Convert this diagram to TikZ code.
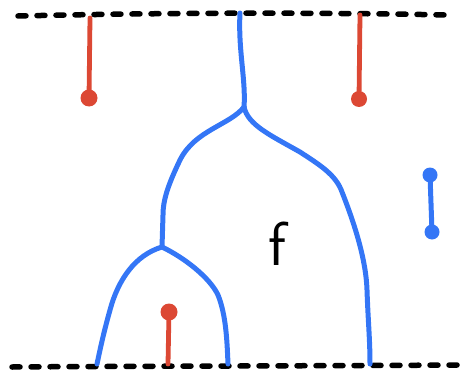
\documentclass[tikz,border=0pt]{standalone}
\begin{document}
\begin{tikzpicture}[x=1pt,y=-1pt]
\definecolor{wb}{RGB}{52,118,246}
\definecolor{wr}{RGB}{220,72,52}
\tikzset{
  boundary/.style={line width=5.5pt,line cap=round,dash pattern=on 8pt off 11pt,black},
  wire/.style={line width=5pt,color=wb,line cap=round,line join=round},
  redwire/.style={line width=4.8pt,color=wr,line cap=round},
  reddot/.style={circle,fill=wr,inner sep=0pt,minimum size=17pt},
  bluedot/.style={circle,fill=wb,inner sep=0pt,minimum size=15pt}}
\useasboundingbox (0,0) rectangle (465,377);
% boundaries
\draw[boundary] (18,16) .. controls (150,13) and (300,12) .. (448,15);
\draw[boundary] (12,367) .. controls (150,366) and (300,366) .. (460,365);
% red top
\node[reddot] (r1) at (89,98) {};
\coordinate (r1t) at (90,18);
\draw[redwire] (r1t) -- (r1.center);
\node[reddot,minimum size=16pt] (r2) at (359,99) {};
\coordinate (r2t) at (360,15);
\draw[redwire] (r2t) -- (r2.center);
% red bottom
\node[reddot] (r3) at (169,312) {};
\coordinate (r3b) at (168,364);
\draw[redwire] (r3b) -- (r3.center);
% blue isolated
\node[bluedot] (b1) at (430,175) {};
\node[bluedot] (b2) at (432,232) {};
\draw[wire] (b1.center) -- (b2.center);
% main blue tree
\coordinate (top) at (240,13);
\coordinate (s1) at (244,107);
\coordinate (s2) at (162,247);
\coordinate (e1) at (97,364);
\coordinate (e2) at (228,364);
\coordinate (e3) at (370,364);
\draw[wire] (top) .. controls (238,50) and (246,80) .. (s1);
\draw[wire] (s1) .. controls (230,125) and (195,130) .. (180,160)
  .. controls (168,185) and (163,200) .. (163,215) -- (s2);
\draw[wire] (s1) .. controls (248,125) and (270,135) .. (300,152)
  .. controls (320,165) and (336,175) .. (342,192)
  .. controls (355,225) and (366,260) .. (367,290)
  .. controls (368,320) and (370,340) .. (e3);
\draw[wire] (s2) .. controls (135,255) and (118,280) .. (110,310) .. controls (103,335) and (100,350) .. (e1);
\draw[wire] (s2) .. controls (185,258) and (210,278) .. (218,295) .. controls (226,315) and (227,340) .. (e2);
\node[font=\sffamily\fontsize{62}{62}\selectfont] (f) at (277,244) {f};
\end{tikzpicture}
\end{document}
